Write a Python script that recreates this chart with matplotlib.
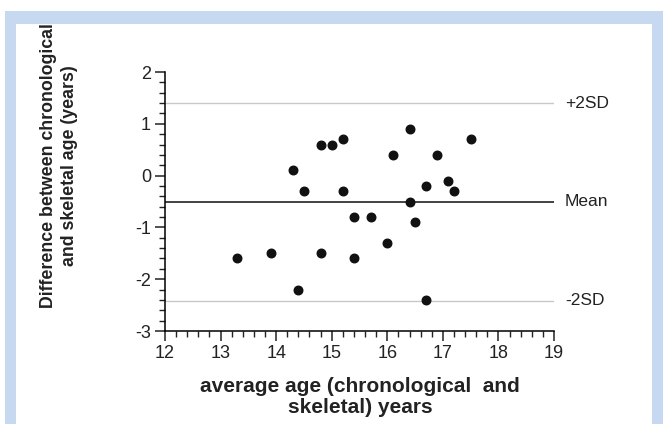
import matplotlib
matplotlib.use("Agg")
import matplotlib.pyplot as plt
from matplotlib.patches import Rectangle
from matplotlib.ticker import MultipleLocator

plt.rcParams['font.family'] = ['Liberation Sans', 'DejaVu Sans']
plt.rcParams['axes.unicode_minus'] = False

# data
avg_age = [13.3, 13.9, 14.3, 14.4, 14.5, 14.8, 14.8, 15.0, 15.2, 15.2, 15.4, 15.4,
           15.7, 16.0, 16.1, 16.4, 16.4, 16.5, 16.7, 16.7, 16.9, 17.1, 17.2, 17.5]
diff = [-1.6, -1.5, 0.1, -2.2, -0.3, 0.6, -1.5, 0.6, 0.7, -0.3, -0.8, -1.6,
        -0.8, -1.3, 0.4, 0.9, -0.5, -0.9, -0.2, -2.4, 0.4, -0.1, -0.3, 0.7]
mean_diff = -0.5
upper_sd = 1.4
lower_sd = -2.42
ref_labels = ['+2SD', 'Mean', '-2SD']

W, H = 668, 424
fig = plt.figure(figsize=(W / 100, H / 100), dpi=100)

# light blue frame behind the chart
fig.patches.append(Rectangle((5 / W, 0), 658 / W, 413 / H, transform=fig.transFigure,
                             facecolor='#c6d9f0', edgecolor='none', zorder=-2))
fig.patches.append(Rectangle((16 / W, 0), 636 / W, 400 / H, transform=fig.transFigure,
                             facecolor='white', edgecolor='none', zorder=-1))

ax = fig.add_axes([165 / W, 1 - 331 / H, 389 / W, 259 / H])
ax.set_facecolor('none')

ax.axhline(upper_sd, color='#c8c8c8', lw=1)
ax.axhline(lower_sd, color='#c8c8c8', lw=1)
ax.axhline(mean_diff, color='#222222', lw=1.2)
ax.scatter(avg_age, diff, s=38, color='#111111', zorder=3)

ax.set_xlim(12, 19)
ax.set_ylim(-3, 2)
ax.xaxis.set_major_locator(MultipleLocator(1))
ax.xaxis.set_minor_locator(MultipleLocator(0.2))
ax.yaxis.set_major_locator(MultipleLocator(1))
ax.yaxis.set_minor_locator(MultipleLocator(0.2))
for s in ['top', 'right']:
    ax.spines[s].set_visible(False)
for s in ['left', 'bottom']:
    ax.spines[s].set_linewidth(1.1)
ax.tick_params(which='major', length=7, width=1.1, labelsize=13, color='#222222',
               labelcolor='#222222', pad=3)
ax.tick_params(which='minor', length=4, width=1, color='#222222')

for val, lab in zip([upper_sd, mean_diff, lower_sd], ref_labels):
    ax.text(1.028, val, lab, transform=ax.get_yaxis_transform(), fontsize=12.5,
            va='center', ha='left', color='#222222')

fig.text(360 / W, 1 - 397 / H, 'average age (chronological  and\nskeletal) years',
         ha='center', va='center', fontsize=15, fontweight='bold', color='#222222',
         linespacing=1.15)
fig.text(59 / W, 1 - 166 / H, 'Difference between chronological\nand skeletal age (years)',
         ha='center', va='center', rotation=90, fontsize=12.8, fontweight='bold',
         color='#222222', linespacing=1.3)

fig.savefig('out.png', dpi=100)
